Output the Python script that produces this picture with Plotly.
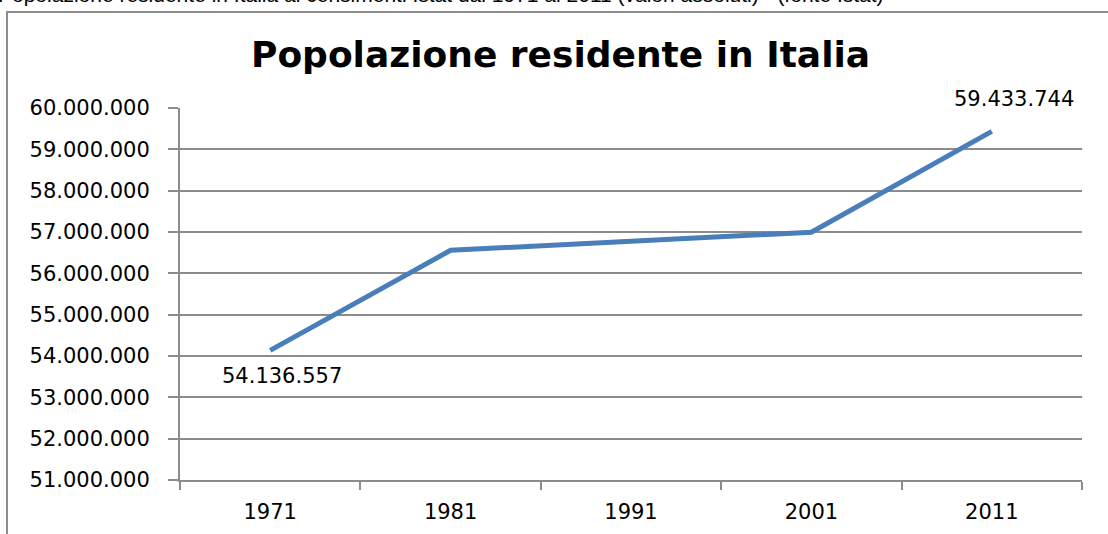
import plotly.graph_objects as go

years = ["1971", "1981", "1991", "2001", "2011"]
population = [54136557, 56556911, 56778031, 56995744, 59433744]
y_ticks = [51000000, 52000000, 53000000, 54000000, 55000000, 56000000, 57000000, 58000000, 59000000, 60000000]
y_tick_labels = [f"{v:,}".replace(",", ".") for v in y_ticks]

W, H = 1108, 534
L, R, T, B = 180, 26, 108, 54
pw, ph = W - L - R, H - T - B

def px_x(p):
    return (p - L) / pw

def px_y(p):
    return (H - B - p) / ph

def fmt(v):
    return f"{v:,}".replace(",", ".")

fig = go.Figure()
fig.add_trace(go.Scatter(
    x=years, y=population, mode="lines",
    line=dict(color="#4a7ebb", width=5),
    hoverinfo="x+y", showlegend=False,
))

font = "DejaVu Sans, Verdana, sans-serif"

fig.add_annotation(x=0, y=population[0], text=fmt(population[0]),
                   showarrow=False, yanchor="top", yshift=-12, xshift=12,
                   font=dict(family=font, size=21, color="#000"))
fig.add_annotation(x=len(years) - 1, y=population[-1], text=fmt(population[-1]),
                   showarrow=False, yanchor="bottom", yshift=18, xshift=22,
                   font=dict(family=font, size=21, color="#000"))

fig.add_annotation(xref="paper", yref="paper", x=px_x(560), y=px_y(55), text="<b>Popolazione residente in Italia</b>",
                   showarrow=False, xanchor="center", yanchor="middle",
                   font=dict(family=font, size=36, color="#000"))

# partially cut text at the very top (from source page)
fig.add_annotation(xref="paper", yref="paper", x=px_x(-4), y=px_y(8), xanchor="left", yanchor="bottom",
                   text="Popolazione residente in Italia ai censimenti Istat dal 1971 al 2011 (valori assoluti) - (fonte Istat)",
                   showarrow=False, font=dict(family="Liberation Sans, Arial", size=21, color="#000"))

# outer frame
fig.add_shape(type="rect", xref="paper", yref="paper",
              x0=px_x(7), x1=px_x(1120), y0=px_y(12), y1=px_y(560),
              line=dict(color="#8c8c8c", width=2), fillcolor="rgba(0,0,0,0)", layer="below")

fig.update_xaxes(
    type="category", showgrid=False, showline=True, linecolor="#8c8c8c", linewidth=2,
    ticks="outside", ticklen=8, tickcolor="#8c8c8c", tickwidth=2, tickson="boundaries",
    ticklabelstandoff=12,
    tickfont=dict(family=font, size=21, color="#000"), range=[-0.5, 4.5],
)
fig.update_yaxes(
    range=[51000000, 60000000], tickvals=y_ticks, ticktext=y_tick_labels,
    showgrid=True, gridcolor="#8c8c8c", gridwidth=1.5,
    showline=True, linecolor="#8c8c8c", linewidth=2,
    ticks="outside", ticklen=10, tickcolor="#8c8c8c", tickwidth=1.5,
    ticklabelstandoff=14,
    tickfont=dict(family=font, size=21, color="#000"), zeroline=False,
)

fig.update_layout(
    width=W, height=H, margin=dict(l=L, r=R, t=T, b=B, autoexpand=False),
    paper_bgcolor="white", plot_bgcolor="white",
)

fig.write_html("out.html", config={"displayModeBar": False},
               post_script="document.body.style.margin='0';document.body.style.overflow='hidden';")
